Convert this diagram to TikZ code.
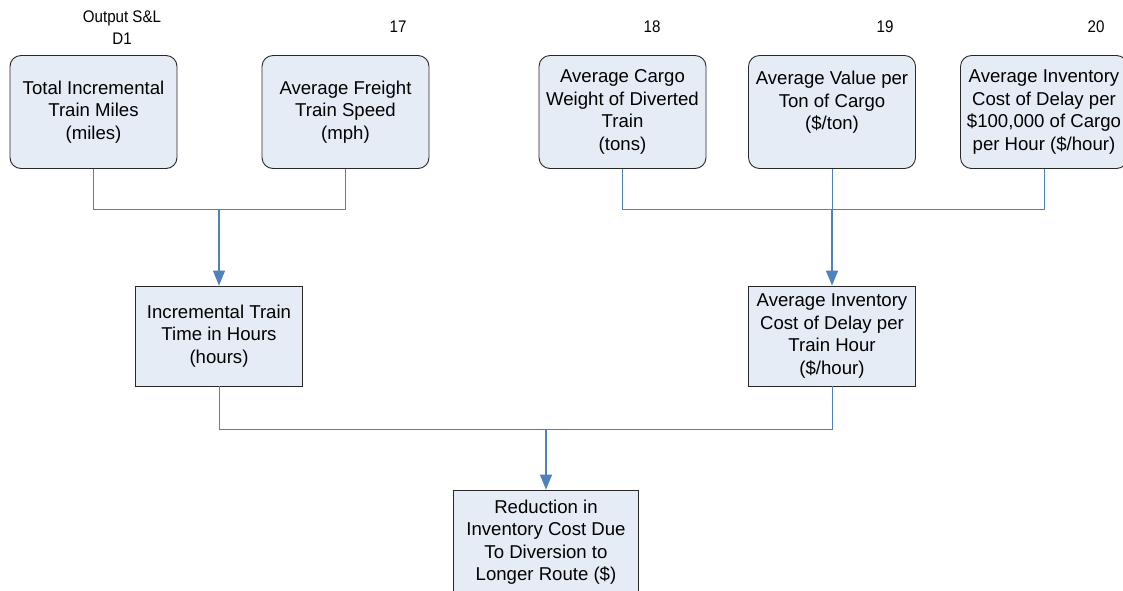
\documentclass[tikz,border=0pt]{standalone}
\usepackage{fontspec}
\setmainfont{Liberation Sans}
\newfontfamily\labelfont[FakeStretch=0.9]{Liberation Sans}
\usetikzlibrary{arrows.meta}
\definecolor{boxfill}{RGB}{230,236,246}
\definecolor{boxline}{RGB}{40,40,40}
\definecolor{link}{RGB}{79,129,189}
\tikzset{
  inbox/.style={draw=boxline, fill=boxfill, line width=0.9pt, rounded corners=11pt,
    minimum width=167pt, minimum height=113pt, inner sep=0pt, align=center,
    font=\fontsize{18.6}{22.5}\selectfont},
  calcbox/.style={draw=boxline, fill=boxfill, line width=0.9pt,
    minimum width=167pt, minimum height=100pt, inner sep=0pt, align=center,
    font=\fontsize{18.6}{22.5}\selectfont},
  tag/.style={inner sep=0pt, align=center, font=\labelfont\fontsize{16.8}{22}\selectfont},
  feed/.style={draw=link, line width=0.9pt},
  flow/.style={draw=link, line width=1.1pt, -{Triangle[width=12pt,length=15pt]}},
}
\begin{document}
\begin{tikzpicture}[x=1pt, y=-1pt]
\clip (0,0) rectangle (1123,590);
\fill[white] (0,0) rectangle (1123,590);

% input boxes
\node[inbox] (A) at (93.5,112) {Total Incremental\\Train Miles\\(miles)};
\node[inbox] (B) at (345.5,112) {Average Freight\\Train Speed\\(mph)};
\node[inbox] (C) at (622.5,112) {Average Cargo\\Weight of Diverted\\Train\\(tons)};
\node[inbox] (D) at (832,112) {Average Value per\\Ton of Cargo\\(\$/ton)\\\mbox{}};
\node[inbox] (E) at (1044,112) {Average Inventory\\Cost of Delay per\\\$100,000 of Cargo\\per Hour (\$/hour)};

% source tags
\node[tag] (tA) at (122,27.5) {Output S\&L\\D1};
\node[tag] (tB) at (398,26.5) {17};
\node[tag] (tC) at (652,26.5) {18};
\node[tag] (tD) at (885,26.5) {19};
\node[tag] (tE) at (1096,26.5) {20};

% intermediate and result boxes
\node[calcbox] (F) at (219,336) {Incremental Train\\Time in Hours\\(hours)};
\node[calcbox] (G) at (832,336) {Average Inventory\\Cost of Delay per\\Train Hour\\(\$/hour)};
\node[calcbox, minimum width=185pt, minimum height=104pt] (H) at (546,542)
  {Reduction in\\Inventory Cost Due\\To Diversion to\\Longer Route (\$)};

% junctions
\coordinate (j1) at (219,209);
\coordinate (j2) at (832,209);
\coordinate (j3) at (546,429.5);

% connectors
\draw[feed] (A.south) |- (j1);
\draw[feed] (B.south) |- (j1);
\draw[flow] (j1) -- (F.north);

\draw[feed] (C.south) |- (j2);
\draw[feed] (E.south) |- (j2);
\draw[feed] (D.south) -- (j2);
\draw[flow, line width=1.6pt] (j2) -- (G.north);

\draw[feed] (F.south) |- (j3);
\draw[feed] (G.south) |- (j3);
\draw[flow] (j3) -- (H.north);
\end{tikzpicture}
\end{document}
